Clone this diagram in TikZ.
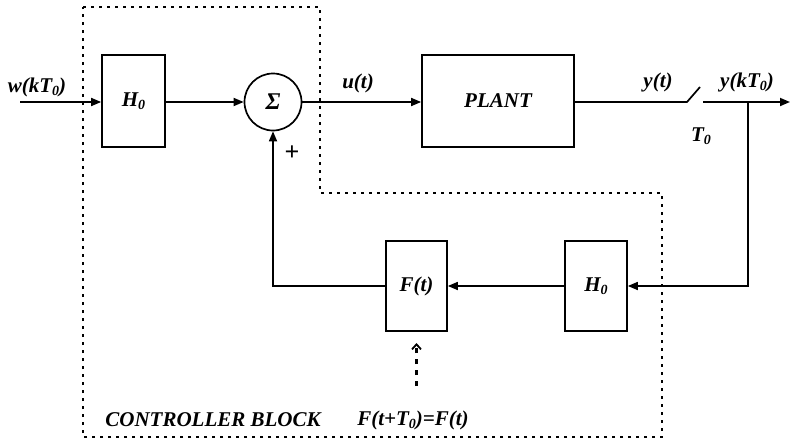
\documentclass[tikz,border=0pt]{standalone}
\usepackage{fontspec}
\setmainfont{Liberation Serif}
\usetikzlibrary{arrows.meta}
\newcommand\sbz[1]{\raisebox{-0.35ex}{\fontsize{14}{14}\selectfont #1}}
\begin{document}
\begin{tikzpicture}[x=1pt,y=-1pt,line width=1.7pt,
  lbl/.style={font=\fontsize{21}{24}\selectfont\bfseries\itshape, inner sep=0pt},
  blk/.style={draw, line width=1.7pt, inner sep=0pt, font=\fontsize{21}{24}\selectfont\bfseries\itshape},
  arr/.style={-{Triangle[length=10pt,width=8pt]}},
  ctrl/.style={line width=2.6pt, dash pattern=on 3pt off 5pt},
  oarr/.style={line width=2.4pt, dash pattern=on 5pt off 6pt, -{Straight Barb[length=5pt,width=9pt,line width=1.8pt]}}]
\useasboundingbox (0,0) rectangle (790,442);
% controller boundary
\draw[ctrl] (83,7) -- (320,7) -- (320,193) -- (662,193) -- (662,437) -- (83,437) -- cycle;
% blocks
\node[blk, minimum width=63pt, minimum height=92pt] (h0a) at (133.5,101) {H\sbz{0}};
\node[blk, circle, minimum size=57pt, font=\fontsize{24}{24}\selectfont\bfseries\itshape] (sum) at (273,102) {Σ};
\node[blk, minimum width=152pt, minimum height=92pt] (plant) at (498,101) {PLANT};
\node[blk, minimum width=62pt, minimum height=90pt] (h0b) at (596,286) {H\sbz{0}};
\node[blk, minimum width=61pt, minimum height=90pt] (ft) at (416.5,286) {F(t)};
% coordinates
\coordinate (win) at (20,102);
\coordinate (sw1) at (687,102);
\coordinate (sw2) at (700,87);
\coordinate (sw3) at (703,102);
\coordinate (yout) at (790,102);
\coordinate (br) at (748,102);
\coordinate (fa) at (416.5,386);
\coordinate (fb) at (416.5,343);
% connectors
\draw[arr] (win) -- (h0a.west |- win);
\draw[arr] (h0a.east |- sum) -- (sum.west);
\draw[arr] (sum.east) -- (plant.west |- sum);
\draw (plant.east |- sw1) -- (sw1) -- (sw2);
\draw[arr] (sw3) -- (yout);
\draw[arr] (br) |- (h0b.east);
\draw[arr] (h0b.west) -- (ft.east);
\draw[arr] (ft.west) -| (sum.south);
\draw[oarr] (fa) -- (fb);
% labels
\node[lbl] (lw) at (37,87) {w(kT\sbz{0})};
\node[lbl] (lu) at (358,83) {u(t)};
\node[lbl] (ly) at (658,82) {y(t)};
\node[lbl] (lyk) at (747,82) {y(kT\sbz{0})};
\node[lbl] (lt) at (701,136) {T\sbz{0}};
\node[lbl, font=\fontsize{26}{26}\selectfont\bfseries] (lp) at (292,153) {+};
\node[lbl] (lc) at (213,420) {CONTROLLER BLOCK};
\node[lbl] (lf) at (413,420) {F(t+T\sbz{0})=F(t)};
\end{tikzpicture}
\end{document}
